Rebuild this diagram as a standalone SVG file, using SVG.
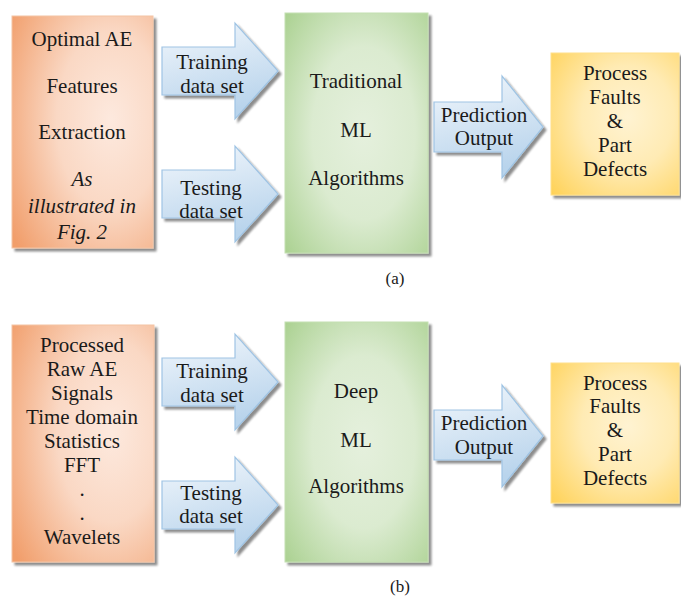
<svg xmlns="http://www.w3.org/2000/svg" width="681" height="599" viewBox="0 0 681 599">
<defs>
<radialGradient id="gOr" cx="0.7" cy="0.45" r="0.85">
<stop offset="0" stop-color="#fde9de"/><stop offset="0.45" stop-color="#fad8c4"/><stop offset="1" stop-color="#f19e6b"/>
</radialGradient>
<radialGradient id="gGr" cx="0.55" cy="0.5" r="0.8">
<stop offset="0" stop-color="#e5f0dd"/><stop offset="0.45" stop-color="#dbebd0"/><stop offset="1" stop-color="#a3cd87"/>
</radialGradient>
<radialGradient id="gYe" cx="0.6" cy="0.45" r="0.8">
<stop offset="0" stop-color="#fff3d2"/><stop offset="0.45" stop-color="#ffebb4"/><stop offset="1" stop-color="#ffd258"/>
</radialGradient>
<linearGradient id="gAr" x1="0" y1="0" x2="0.3" y2="1">
<stop offset="0" stop-color="#f2f7fc"/><stop offset="1" stop-color="#b9d4ec"/>
</linearGradient>
<filter id="sh" x="-10%" y="-10%" width="130%" height="130%">
<feGaussianBlur in="SourceAlpha" stdDeviation="1"/>
<feOffset dx="2.5" dy="2.5" result="o"/>
<feComponentTransfer><feFuncA type="linear" slope="0.45"/></feComponentTransfer>
<feMerge><feMergeNode/><feMergeNode in="SourceGraphic"/></feMerge>
</filter>
</defs>
<style>
.or{fill:url(#gOr);stroke:#f4c4a4;stroke-width:1}
.gr{fill:url(#gGr);stroke:#c4dfb2;stroke-width:1}
.ye{fill:url(#gYe);stroke:#ffe08c;stroke-width:1}
.ar{fill:url(#gAr);stroke:#9fc4e4;stroke-width:1.2}
</style>
<g font-family="'Liberation Serif', 'Times New Roman', serif" font-size="21" fill="#1a1a1a" text-anchor="middle">
<g id="connectors">
<g id="a-train"><path class="ar" filter="url(#sh)" d="M162,47 H235 V23 L278,71 L235,119 V95 H162 Z"/><text x="212" y="69">Training</text><text x="212" y="93">data set</text></g>
<g id="a-test"><path class="ar" filter="url(#sh)" d="M162,170 H235 V146 L278,194 L235,242 V218 H162 Z"/><text x="211" y="195">Testing</text><text x="211" y="218">data set</text></g>
<g id="a-pred"><path class="ar" filter="url(#sh)" d="M434,102 H502 V76 L543,127 L502,178 V152 H434 Z"/><text x="484" y="122">Prediction</text><text x="484" y="145">Output</text></g>
<g id="b-train"><path class="ar" filter="url(#sh)" d="M162,358 H235 V334 L278,382 L235,430 V406 H162 Z"/><text x="212" y="378">Training</text><text x="212" y="402">data set</text></g>
<g id="b-test"><path class="ar" filter="url(#sh)" d="M162,481 H235 V457 L278,505 L235,553 V529 H162 Z"/><text x="211" y="500">Testing</text><text x="211" y="523">data set</text></g>
<g id="b-pred"><path class="ar" filter="url(#sh)" d="M434,410 H502 V385 L543,436 L502,487 V460 H434 Z"/><text x="484" y="430">Prediction</text><text x="484" y="454">Output</text></g>
</g>

<g id="a-features">
<rect class="or" x="12" y="16" width="141" height="232" filter="url(#sh)"/>
<text x="82" y="46">Optimal AE</text>
<text x="82" y="93">Features</text>
<text x="82" y="139">Extraction</text>
<text font-style="italic" x="82" y="186">As</text>
<text font-style="italic" x="82" y="213">illustrated in</text>
<text font-style="italic" x="82" y="239">Fig. 2</text>
</g>
<g id="a-ml">
<rect class="gr" x="285" y="13" width="143" height="240" filter="url(#sh)"/>
<text x="356" y="88">Traditional</text>
<text x="356" y="137">ML</text>
<text x="356" y="185">Algorithms</text>
</g>
<g id="a-out">
<rect class="ye" x="551" y="53" width="128" height="142" filter="url(#sh)"/>
<text x="615" y="80">Process</text>
<text x="615" y="104">Faults</text>
<text x="615" y="128">&amp;</text>
<text x="615" y="152">Part</text>
<text x="615" y="176">Defects</text>
</g>
<text font-size="17" x="395" y="284">(a)</text>

<g id="b-signals">
<rect class="or" x="12" y="325" width="142" height="237" filter="url(#sh)"/>
<text x="82" y="352">Processed</text>
<text x="82" y="376">Raw AE</text>
<text x="82" y="400">Signals</text>
<text x="82" y="424">Time domain</text>
<text x="82" y="448">Statistics</text>
<text x="82" y="472">FFT</text>
<text x="82" y="496">.</text>
<text x="82" y="520">.</text>
<text x="82" y="544">Wavelets</text>
</g>
<g id="b-ml">
<rect class="gr" x="285" y="322" width="143" height="240" filter="url(#sh)"/>
<text x="356" y="398">Deep</text>
<text x="356" y="447">ML</text>
<text x="356" y="493">Algorithms</text>
</g>
<g id="b-out">
<rect class="ye" x="551" y="363" width="128" height="140" filter="url(#sh)"/>
<text x="615" y="390">Process</text>
<text x="615" y="413">Faults</text>
<text x="615" y="437">&amp;</text>
<text x="615" y="461">Part</text>
<text x="615" y="485">Defects</text>
</g>
<text font-size="17" x="400" y="592">(b)</text>
</g>
</svg>
